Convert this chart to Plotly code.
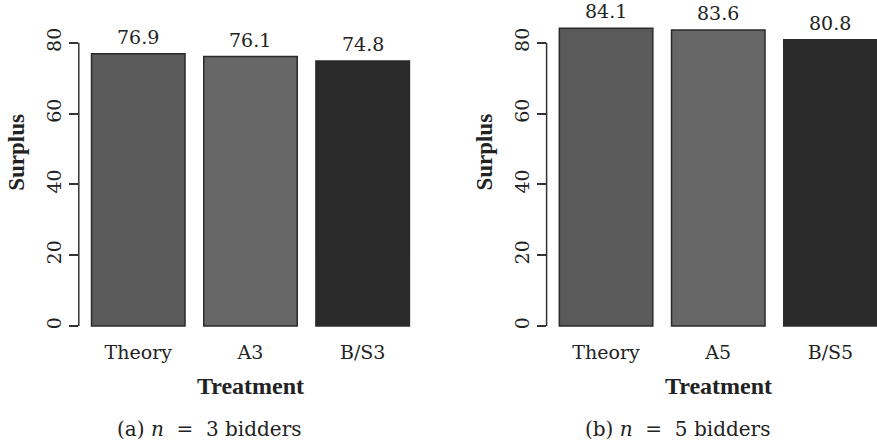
import plotly.graph_objects as go

# Mean surplus by treatment, for auctions with 3 and 5 bidders
treat_n3 = ["Theory", "A3", "B/S3"]
surplus_n3 = [76.9, 76.1, 74.8]
treat_n5 = ["Theory", "A5", "B/S5"]
surplus_n5 = [84.1, 83.6, 80.8]
bar_colors = ["#5a5a5a", "#666666", "#2a2a2a"]
y_ticks = [0, 20, 40, 60, 80]
captions = ["(a) <i>n</i>&nbsp; =&nbsp; 3 bidders",
            "(b) <i>n</i>&nbsp; =&nbsp; 5 bidders"]

W, H = 877, 447
FONT = "DejaVu Serif"
BOLD_FONT = "Liberation Serif"
TXT = "#222222"

fig = go.Figure()

# pixel geometry of both panels
y0_px, y80_px = 326.0, 42.7
ppu = (y0_px - y80_px) / 80.0
y_lo = -3.2
y_hi = y0_px / ppu
ydom = [1 - (y0_px - y_lo * ppu) / H, 1.0]

panels = [
    dict(cats=treat_n3, vals=surplus_n3, xl=78.8, xr=422.0, xr_full=422.0,
         xa="x", ya="y", cap=captions[0], capx=209.5),
    dict(cats=treat_n5, vals=surplus_n5, xl=546.6, xr=877.0, xr_full=890.0,
         xa="x2", ya="y2", cap=captions[1], capx=677.5),
]

unit_px = 93.5 * 1.2  # one category step in pixels
for i, p in enumerate(panels):
    lo = -0.53
    hi = lo + (p["xr"] - p["xl"]) / unit_px
    fig.add_trace(go.Bar(
        x=p["cats"], y=p["vals"], xaxis=p["xa"], yaxis=p["ya"],
        marker=dict(color=bar_colors, line=dict(color="#2b2b2b", width=1.5)),
        width=1 / 1.2, showlegend=False, hoverinfo="x+y",
    ))
    sfx = "" if i == 0 else "2"
    fig.update_layout(**{
        "xaxis" + sfx: dict(domain=[p["xl"] / W, p["xr"] / W], range=[lo, hi],
                             showgrid=False, zeroline=False, showline=False,
                             ticks="", anchor="y" + sfx,
                             tickfont=dict(family=FONT, size=19, color=TXT),
                             ticklabelstandoff=2),
        "yaxis" + sfx: dict(domain=ydom, range=[y_lo, y_hi], anchor="x" + sfx,
                             showgrid=False, zeroline=False, showline=False,
                             tickvals=y_ticks, ticks="outside", ticklen=9,
                             tickwidth=1.5, tickcolor="#333333", tickangle=-90,
                             tickfont=dict(family=FONT, size=19, color=TXT)),
    })
    # y axis line spanning the tick range only
    fig.add_shape(type="line", xref=p["xa"] + " domain", yref=p["ya"],
                  x0=0, x1=0, y0=0, y1=80,
                  line=dict(color="#333333", width=1.5))
    # value labels above bars
    for c, v in zip(p["cats"], p["vals"]):
        fig.add_annotation(x=c, y=v, xref=p["xa"], yref=p["ya"],
                           text=f"{v:.1f}", showarrow=False, yanchor="middle",
                           yshift=17, font=dict(family=FONT, size=19, color=TXT))
    # axis titles
    fig.add_annotation(x=(p["xl"] + p["xr_full"]) / 2 / W, y=1 - 385.7 / H,
                       xref="paper", yref="paper", text="<b>Treatment</b>",
                       showarrow=False, xanchor="center", yanchor="middle",
                       font=dict(family=BOLD_FONT, size=24, color=TXT))
    fig.add_annotation(x=(p["xl"] - 63) / W, y=1 - 152 / H,
                       xref="paper", yref="paper", text="<b>Surplus</b>",
                       showarrow=False, textangle=-90, xanchor="center",
                       yanchor="middle",
                       font=dict(family=BOLD_FONT, size=23, color=TXT))
    # panel caption
    fig.add_annotation(x=p["capx"] / W, y=1 - 429 / H, xref="paper",
                       yref="paper", text=p["cap"], showarrow=False,
                       xanchor="center", yanchor="middle",
                       font=dict(family=FONT, size=20, color=TXT))

fig.update_layout(width=W, height=H, margin=dict(l=0, r=0, t=0, b=0),
                  paper_bgcolor="white", plot_bgcolor="white")

fig.write_html("out.html")
